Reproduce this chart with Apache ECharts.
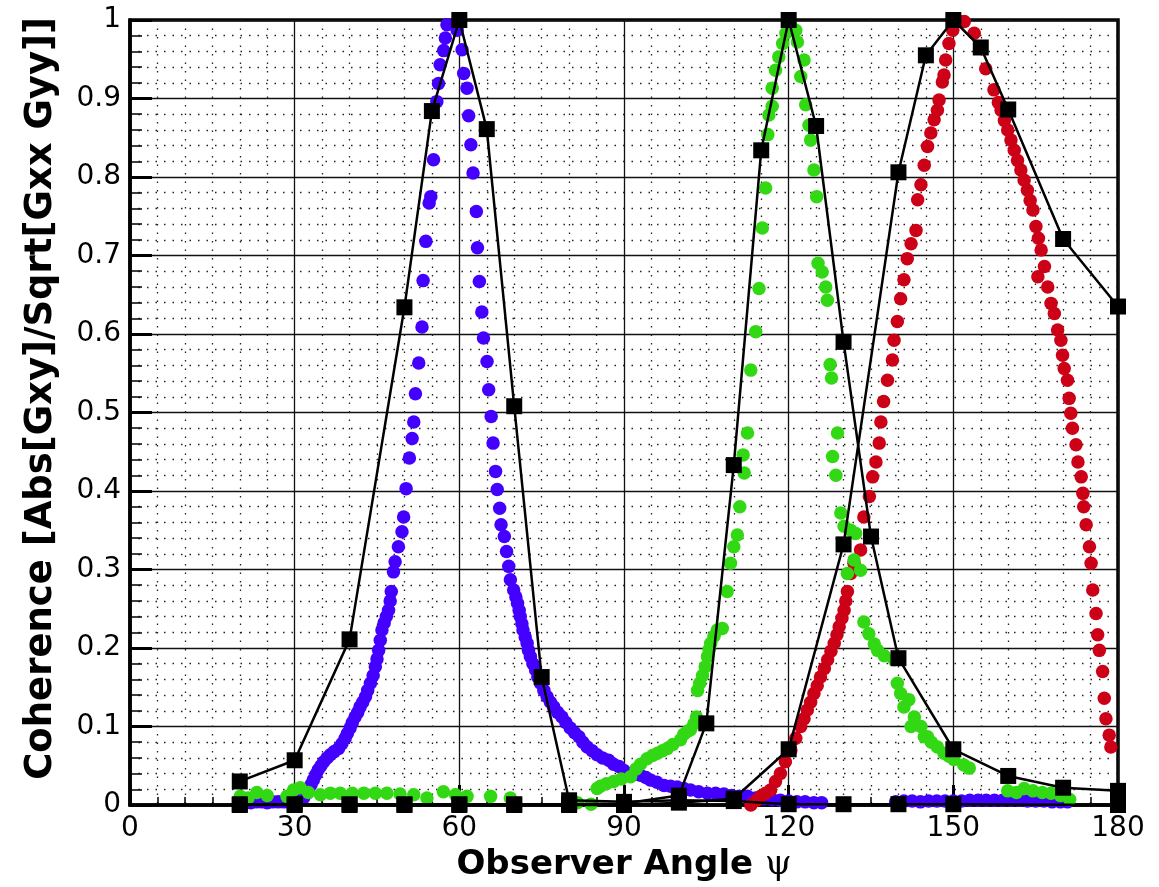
<!DOCTYPE html>
<html>
<head>
<meta charset="utf-8">
<title>Coherence vs Observer Angle</title>
<script src="https://cdn.jsdelivr.net/npm/echarts@6/dist/echarts.min.js"></script>
<style>
  html, body { margin: 0; padding: 0; background: #fff; }
  #chart { width: 1159px; height: 887px; }
</style>
</head>
<body>
<div id="chart"></div>
<script>
// Measured coherence, beam steered to 60 deg (blue dots)
const blueDots = [
  [20,0.004],[21,0.004],[22,0.003],[23,0.004],[24,0.004],[25,0.003],[26,0.004],[27,0.004],[28,0.004],[29,0.004],[30,0.004],
  [30.8,0.005],[31.6,0.009],[32.1,0.014],[32.5,0.019],[33,0.026],[33.4,0.032],[33.9,0.039],[34.3,0.045],[34.8,0.05],
  [35.3,0.055],[35.9,0.06],[36.5,0.064],[37.2,0.068],[38,0.072],[38.6,0.078],[39.2,0.085],[39.6,0.091],[40.1,0.098],
  [40.5,0.105],[41,0.112],[41.5,0.118],[41.9,0.125],[42.4,0.131],[42.9,0.138],[43.3,0.146],[43.8,0.155],[44.3,0.165],
  [44.7,0.176],[45,0.186],[45.3,0.197],[45.6,0.21],[45.9,0.223],[46.3,0.232],[46.7,0.24],[47.1,0.248],[47.4,0.26],
  [47.6,0.272],[48,0.297],[48.3,0.31],[48.9,0.329],[49.55,0.348],[49.85,0.367],[50.3,0.403],[50.9,0.442],[51.4,0.467],
  [51.7,0.488],[52,0.524],[52.6,0.563],[53.2,0.609],[53.4,0.668],[53.9,0.718],[54.5,0.767],[54.8,0.775],[55.3,0.822],
  [55.9,0.896],[56.2,0.919],[56.5,0.943],[57.15,0.961],[57.45,0.977],[57.75,0.994],
  [59.6,0.987],[60.5,0.962],[60.8,0.932],[61.4,0.913],[61.7,0.878],[62.1,0.841],[62.5,0.805],[63.1,0.756],[63.3,0.71],
  [63.65,0.667],[64.1,0.628],[64.4,0.595],[65.05,0.565],[65.35,0.529],[65.8,0.495],[66.15,0.461],[66.6,0.425],
  [66.9,0.402],[67.35,0.378],[67.6,0.357],[68.2,0.342],[68.6,0.323],[69,0.304],[69.3,0.287],[69.9,0.274],[70.3,0.265],
  [70.6,0.257],[70.9,0.248],[71.1,0.24],[71.4,0.231],[71.6,0.223],[72,0.214],[72.35,0.206],[72.6,0.197],[72.95,0.189],
  [73.4,0.18],[73.9,0.172],[74.3,0.163],[74.8,0.155],[75.4,0.146],[76,0.138],[76.6,0.131],[77.2,0.125],[77.9,0.118],
  [78.7,0.112],[79.4,0.105],[80.2,0.098],[81,0.092],[81.8,0.087],[82.5,0.08],[83.3,0.074],[84.2,0.069],[85.1,0.064],
  [86.1,0.06],[87.2,0.057],[88.1,0.052],[89.1,0.049],[90,0.044],[90.6,0.04],[91.8,0.039],[93,0.038],[94,0.035],
  [94.8,0.032],[96,0.029],[97.3,0.025],[98.5,0.024],[99.7,0.023],[100.9,0.021],[102.1,0.019],[103.6,0.017],[105.2,0.015],
  [106.7,0.015],[108.2,0.014],[109.6,0.012],[111,0.011],[112.5,0.011],[114,0.009],[115.5,0.008],[117,0.007],[118.5,0.006],
  [120,0.005],[121.5,0.004],[123,0.004],[124.6,0.003],[126,0.003],
  [139.5,0.004],[141,0.005],[142.5,0.005],[144,0.004],[145.5,0.005],[147,0.005],[148.5,0.005],[150,0.005],[151.5,0.005],
  [153,0.006],[154.5,0.006],[156,0.006],[157.5,0.006],[159,0.006],[160.5,0.006],[162,0.006],[163.5,0.005],[165,0.005],
  [166.5,0.005],[168,0.004],[169.5,0.004],[170.8,0.004]
];

// Measured coherence, beam steered to 120 deg (green dots)
const greenDots = [
  [20.1,0.011],[21.5,0.009],[23.1,0.016],[25,0.012],[28.6,0.011],[29.8,0.019],[31,0.022],[32.5,0.016],[34.7,0.013],
  [36.5,0.015],[38.3,0.015],[40.5,0.015],[42.6,0.015],[44.7,0.015],[46.8,0.015],[49.2,0.014],[51.7,0.013],[54.1,0.009],
  [57.1,0.017],[59.3,0.013],[61.4,0.011],[65.7,0.011],[69.3,0.009],[81.5,0.003],[84,0.001],
  [85.1,0.021],[85.7,0.024],[86.8,0.027],[88.1,0.03],[89.5,0.033],[91.2,0.036],[92.2,0.046],[93,0.052],[94.2,0.059],
  [95.2,0.063],[96.1,0.066],[97,0.069],[97.9,0.072],[98.9,0.077],[100.3,0.083],[100.9,0.09],[101.6,0.094],[102.1,0.096],
  [102.7,0.103],[103.2,0.112],[103.4,0.146],[103.8,0.155],[104.3,0.165],[104.8,0.176],[105.2,0.189],[105.5,0.198],
  [105.8,0.206],[106.4,0.215],[107,0.223],[107.9,0.225],[108.8,0.272],[109.4,0.308],[110,0.329],[110.65,0.344],
  [111.1,0.38],[111.7,0.446],[111.9,0.423],[112.5,0.474],[113.1,0.554],[114,0.603],[114.6,0.658],[115.2,0.735],
  [115.8,0.786],[116.2,0.854],[116.4,0.879],[117,0.89],[117,0.913],[117.6,0.936],[118.2,0.953],[118.9,0.97],
  [119.5,0.983],[120.3,0.995],
  [121.3,0.987],[121.6,0.972],[122.2,0.928],[122.8,0.949],[123.1,0.892],[123.7,0.866],[124,0.847],[124.6,0.809],
  [125.1,0.775],[125.35,0.69],[126.1,0.679],[126.75,0.66],[127.05,0.643],[127.55,0.561],[127.8,0.544],[128.9,0.474],
  [128,0.444],[128.6,0.42],[129.5,0.372],[130.1,0.355],[131.3,0.35],[132.2,0.346],[131.9,0.312],[130.7,0.295],
  [133.1,0.299],[133.7,0.233],[134.6,0.218],[135.6,0.205],[136.2,0.197],[137.4,0.19],[139.2,0.185],
  [139.8,0.155],[140.4,0.142],[141,0.125],[141.9,0.134],[142.3,0.1],[142.9,0.112],[144.1,0.1],[144.7,0.087],
  [145.3,0.087],[146,0.08],[147.1,0.074],[148.3,0.066],[149.2,0.062],[150.1,0.058],[151.9,0.051],[152.9,0.047],
  [159.9,0.018],[161.5,0.016],[162.9,0.021],[164.5,0.018],[166.2,0.016],[167.8,0.015],[169.5,0.012],[171.2,0.007]
];

// Measured coherence, beam steered to 150 deg (red dots)
const redDots = [
  [113.1,0.0],[114.2,0.006],[114.9,0.011],[115.8,0.015],[116.7,0.019],[117.6,0.03],[118.5,0.04],[119.4,0.055],
  [120.4,0.07],[121.3,0.085],[122.2,0.1],[122.8,0.11],[123.4,0.121],[124,0.131],[124.6,0.142],[125.2,0.152],
  [125.8,0.163],[126.5,0.174],[127.1,0.185],[127.7,0.196],[128.3,0.206],[128.8,0.217],[129.2,0.227],[129.7,0.238],
  [130.1,0.248],[130.4,0.26],[130.7,0.272],[131.3,0.295],[131.9,0.308],[133.1,0.325],[133.7,0.367],[134.7,0.393],
  [135.3,0.418],[135.9,0.437],[136.5,0.461],[136.8,0.488],[137.3,0.514],[138,0.541],[138.9,0.567],[139.2,0.592],
  [139.8,0.616],[140.4,0.645],[141,0.669],[141.6,0.696],[142.3,0.715],[143.2,0.732],[143.5,0.771],[144.1,0.79],
  [144.7,0.815],[145.3,0.839],[145.9,0.856],[146.5,0.873],[147.1,0.885],[147.4,0.898],[148,0.921],[148.3,0.93],
  [148.6,0.949],[149.2,0.97],[149.9,0.987],[150.7,1.0],[152,0.998],[153.8,0.983],[155.9,0.938],[157.4,0.911],
  [158.2,0.895],[158.7,0.885],[159.3,0.872],[159.9,0.86],[160.5,0.847],[161.1,0.834],[161.7,0.821],[162.3,0.809],
  [162.9,0.796],[163.5,0.783],[164,0.77],[164.5,0.758],[165.05,0.737],[165.5,0.722],[166,0.707],[166.6,0.686],
  [165.4,0.673],[167.2,0.66],[167.8,0.639],[168.4,0.626],[169,0.605],[169.6,0.592],[169.9,0.573],[170.2,0.556],
  [170.8,0.541],[171.1,0.518],[171.4,0.499],[171.7,0.48],[172.35,0.459],[172.7,0.437],[173.3,0.418],[173.6,0.397],
  [173.75,0.38],[174.2,0.357],[174.8,0.329],[175.1,0.308],[175.4,0.274],[176,0.244],[176.3,0.217],[176.6,0.197],
  [177.2,0.17],[177.5,0.136],[177.8,0.11],[178.4,0.089],[178.7,0.074]
];

// Predicted coherence, steered to 60 deg
const pred60X = [20, 30, 40, 50, 55, 60, 65, 70, 75, 80, 90, 100, 110, 120, 130, 140, 150, 180];
const pred60Y = [0.03, 0.057, 0.211, 0.634, 0.884, 1.0, 0.861, 0.508, 0.163, 0.006, 0.004, 0.006, 0.005, 0.001, 0.001, 0.001, 0.001, 0.0];

// Predicted coherence, steered to 120 deg
const pred120X = [20, 30, 40, 50, 60, 70, 80, 90, 100, 105, 110, 115, 120, 125, 130, 135, 140, 150, 160, 170, 180];
const pred120Y = [0.001, 0.001, 0.001, 0.001, 0.001, 0.001, 0.001, 0.002, 0.012, 0.104, 0.433, 0.834, 1.0, 0.865, 0.59, 0.342, 0.187, 0.071, 0.037, 0.022, 0.018];

// Predicted coherence, steered to 150 deg
const pred150X = [20, 30, 40, 50, 60, 70, 80, 90, 100, 110, 120, 130, 140, 145, 150, 155, 160, 170, 180];
const pred150Y = [0.0, 0.0, 0.0, 0.0, 0.0, 0.0, 0.0, 0.0, 0.003, 0.008, 0.071, 0.332, 0.806, 0.955, 1.0, 0.965, 0.886, 0.721, 0.635];

// Axis ticks
const xTicks = [0, 30, 60, 90, 120, 150, 180];
const yTicks = [0, 0.1, 0.2, 0.3, 0.4, 0.5, 0.6, 0.7, 0.8, 0.9, 1];

const pairs = (xs, ys) => xs.map((x, i) => [x, ys[i]]);

const DOT_SIZE = 13.5;
const SQUARE_SIZE = 16;

function dotSeries(data, color) {
  return {
    type: 'scatter',
    data: data,
    symbol: 'circle',
    symbolSize: DOT_SIZE,
    itemStyle: { color: color, opacity: 1 },
    silent: true
  };
}

function predSeries(xs, ys) {
  return {
    type: 'line',
    data: pairs(xs, ys),
    symbol: 'rect',
    symbolSize: SQUARE_SIZE,
    showAllSymbol: true,
    clip: false,
    lineStyle: { color: '#000', width: 2.5 },
    itemStyle: { color: '#000', opacity: 1 },
    silent: true
  };
}

const labelFont = 'DejaVu Sans';

const chart = echarts.init(document.getElementById('chart'), null, { renderer: 'canvas' });
chart.setOption({
  animation: false,
  backgroundColor: '#fff',
  grid: {
    left: 130, right: 41, top: 20, bottom: 82,
    show: true,
    borderColor: '#000',
    borderWidth: 3.5,
    backgroundColor: 'transparent'
  },
  xAxis: {
    type: 'value',
    min: xTicks[0],
    max: xTicks[xTicks.length - 1],
    interval: xTicks[1] - xTicks[0],
    name: '{b|Observer Angle }{p|ψ}',
    nameLocation: 'middle',
    nameGap: 42,
    nameTextStyle: {
      rich: {
        b: { fontFamily: labelFont, fontWeight: 'bold', fontSize: 34, color: '#000' },
        p: { fontFamily: 'DejaVu Serif', fontWeight: 'normal', fontSize: 34, color: '#000' }
      }
    },
    axisLine: { show: true, onZero: false, lineStyle: { color: '#000', width: 3.5 } },
    axisTick: { show: true, inside: true, length: 20, lineStyle: { color: '#000', width: 3 } },
    minorTick: { show: true, splitNumber: 6, length: 8, lineStyle: { color: '#000', width: 1.5 } },
    splitLine: { show: true, lineStyle: { color: '#111', width: 1.3 } },
    minorSplitLine: { show: true, lineStyle: { color: '#222', width: 1.3, type: [1.5, 7] } },
    axisLabel: { fontFamily: labelFont, fontSize: 28, color: '#000', margin: 10 }
  },
  yAxis: {
    type: 'value',
    min: yTicks[0],
    max: yTicks[yTicks.length - 1],
    interval: 0.1,
    name: 'Coherence [Abs[Gxy]/Sqrt[Gxx Gyy]]',
    nameLocation: 'middle',
    nameGap: 70,
    nameRotate: 90,
    nameTextStyle: {
      fontFamily: labelFont, fontWeight: 'bold', fontSize: 37, color: '#000',
      padding: [0, 0, 0, 28]
    },
    axisLine: { show: true, onZero: false, lineStyle: { color: '#000', width: 3.5 } },
    axisTick: { show: true, inside: true, length: 22, lineStyle: { color: '#000', width: 3 } },
    minorTick: { show: true, splitNumber: 5, length: 12, lineStyle: { color: '#000', width: 1.5 } },
    splitLine: { show: true, lineStyle: { color: '#111', width: 1.3 } },
    minorSplitLine: { show: true, lineStyle: { color: '#222', width: 1.3, type: [1.5, 7] } },
    axisLabel: {
      fontFamily: labelFont, fontSize: 28, color: '#000', margin: 9,
      formatter: v => (v === 0 ? '0' : v === 1 ? '1' : v.toFixed(1))
    }
  },
  series: [
    dotSeries(blueDots, '#4400ff'),
    dotSeries(redDots, '#cc0016'),
    dotSeries(greenDots, '#33d814'),
    predSeries(pred60X, pred60Y),
    predSeries(pred120X, pred120Y),
    predSeries(pred150X, pred150Y)
  ]
});
</script>
</body>
</html>
